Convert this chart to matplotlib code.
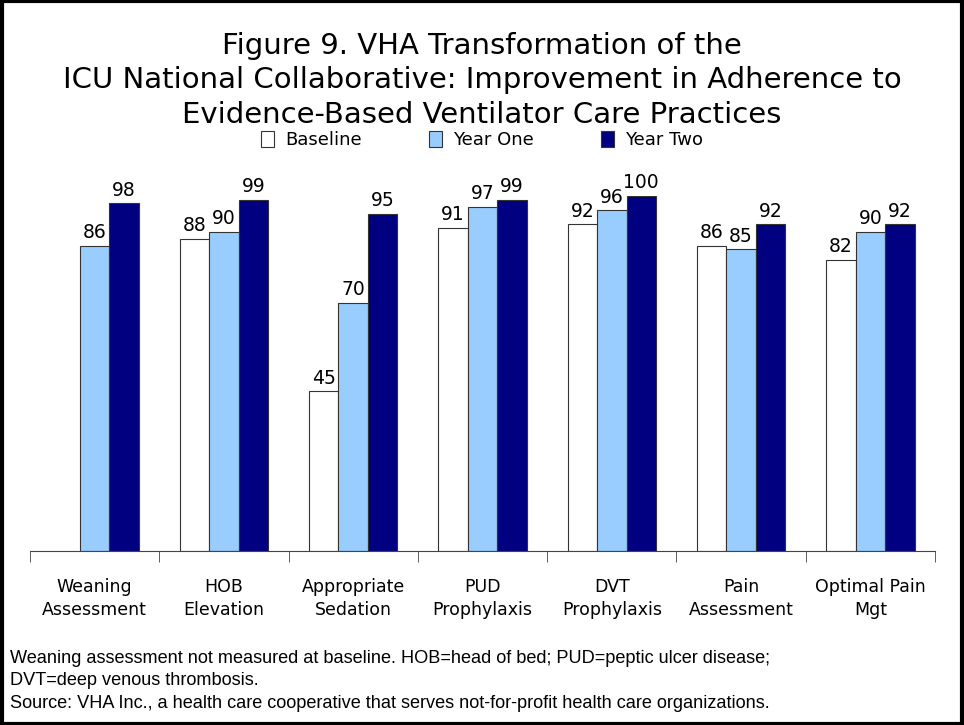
import numpy as np
import matplotlib
matplotlib.use('Agg')
import matplotlib.pyplot as plt
from matplotlib.patches import Rectangle

# Chart data
categories = ['Weaning\nAssessment', 'HOB\nElevation', 'Appropriate\nSedation',
              'PUD\nProphylaxis', 'DVT\nProphylaxis', 'Pain\nAssessment',
              'Optimal Pain\nMgt']
baseline = [np.nan, 88, 45, 91, 92, 86, 82]
year_one = [86, 90, 70, 97, 96, 85, 90]
year_two = [98, 99, 95, 99, 100, 92, 92]
series_names = ['Baseline', 'Year One', 'Year Two']
colors = ['white', '#99CCFF', '#000080']

title = ('Figure 9. VHA Transformation of the\n'
         'ICU National Collaborative: Improvement in Adherence to\n'
         'Evidence-Based Ventilator Care Practices')
footnote = ('Weaning assessment not measured at baseline. HOB=head of bed; PUD=peptic ulcer disease;\n'
            'DVT=deep venous thrombosis.\n'
            'Source: VHA Inc., a health care cooperative that serves not-for-profit health care organizations.')

fig = plt.figure(figsize=(9.64, 7.25), dpi=100)
ax = fig.add_axes([30 / 964, 1 - 551 / 725, 905 / 964, 355 / 725])

x = np.arange(len(categories))
width = 0.228
all_series = [baseline, year_one, year_two]
for i, (vals, name, col) in enumerate(zip(all_series, series_names, colors)):
    pos = x + (i - 1) * width
    vals = np.array(vals, dtype=float)
    ax.bar(pos, vals, width, color=col, edgecolor='#333333', linewidth=0.8, label=name)
    for px, v in zip(pos, vals):
        if not np.isnan(v):
            ax.text(px, v + 1.0, '%d' % v, ha='center', va='bottom',
                    fontsize=13.5, color='black', clip_on=False)

ax.set_xlim(-0.5, len(categories) - 0.5)
ax.set_ylim(0, 100)
for s in ['left', 'top', 'right']:
    ax.spines[s].set_visible(False)
ax.spines['bottom'].set_color('#444444')
ax.set_yticks([])
ax.set_xticks(x)
ax.set_xticklabels(categories, fontsize=12.5)
ax.tick_params(axis='x', which='major', length=0, pad=19.5)
ax.set_xticks(np.arange(-0.5, len(categories)), minor=True)
ax.tick_params(axis='x', which='minor', length=8, color='#444444', direction='out')
for lbl in ax.get_xticklabels():
    lbl.set_linespacing(1.35)

fig.text(0.5, 1 - 32 / 725, title, ha='center', va='top', fontsize=21, linespacing=1.29)

fig.legend(loc='center', bbox_to_anchor=(0.5, 1 - 140 / 725), ncol=3, frameon=False,
           fontsize=13, handlelength=0.75, handleheight=1.05, columnspacing=3.7,
           handletextpad=0.6)

fig.text(10 / 964, 1 - 650 / 725, footnote, ha='left', va='top', fontsize=13.1,
         family='Liberation Sans', linespacing=1.42)

# border around the whole figure
fig.patches.append(Rectangle((0.002, 0.002), 0.996, 0.996, transform=fig.transFigure,
                             fill=False, edgecolor='black', linewidth=3))

plt.savefig('out.png', dpi=100)
